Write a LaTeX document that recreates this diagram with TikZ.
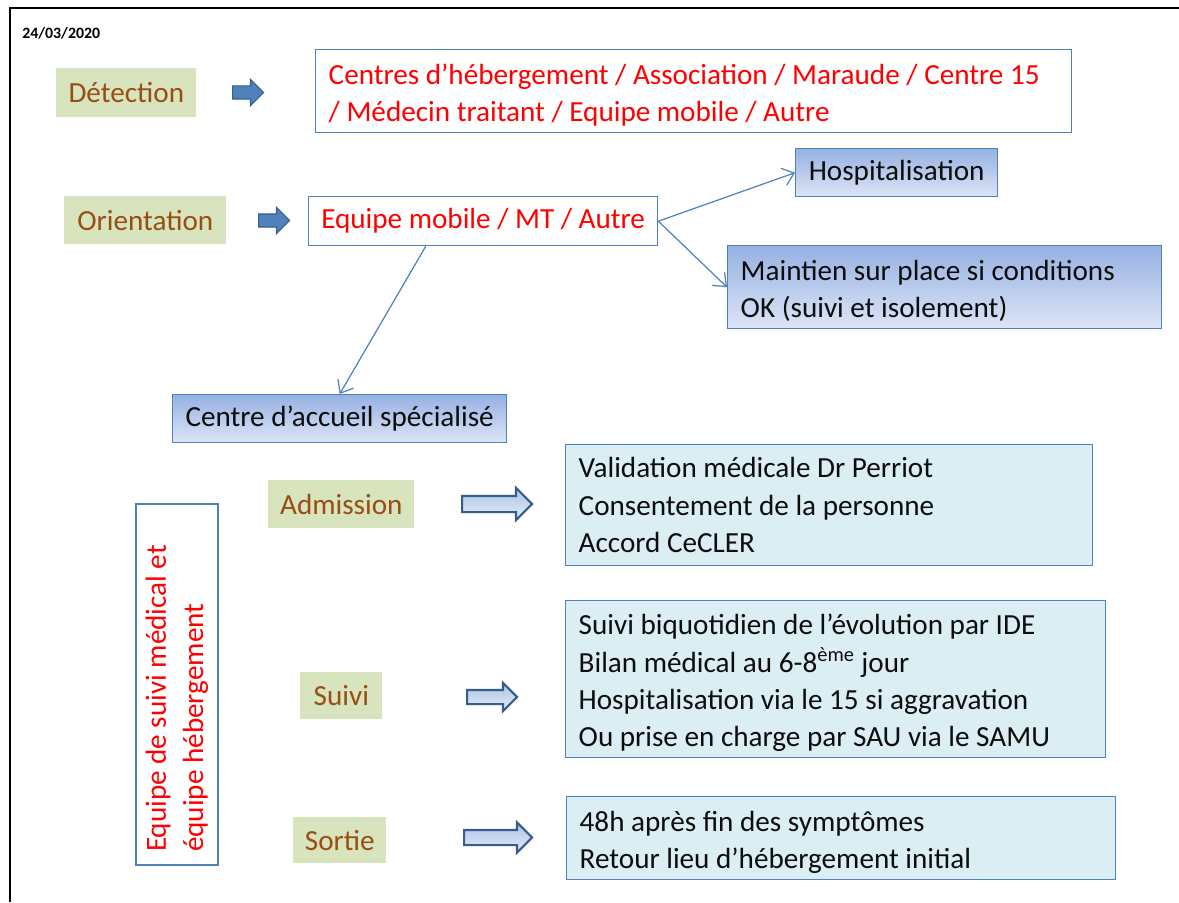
\documentclass[tikz,border=0pt]{standalone}
\usepackage{fontspec}
\setmainfont{Carlito}
\usepackage{tikz}
\usetikzlibrary{positioning, arrows.meta, shapes.arrows}
\definecolor{vertclair}{RGB}{215, 228, 189}
\definecolor{brun}{RGB}{152, 78, 18}
\definecolor{bleu}{RGB}{79, 129, 189}
\definecolor{bleufonce}{RGB}{56, 93, 138}
\definecolor{ciel}{RGB}{218, 238, 243}
\definecolor{degrhaut}{RGB}{150, 177, 226}
\definecolor{degrbas}{RGB}{221, 229, 246}
\definecolor{videhaut}{RGB}{172, 196, 230}
\definecolor{videbas}{RGB}{228, 235, 248}
\definecolor{texte}{RGB}{13, 13, 13}
\newcommand{\txt}{\fontsize{16.6}{21.2}\selectfont}
\newcommand{\bas}{\rule{0pt}{16pt}}
\tikzset{
    etape/.style={rectangle, fill=vertclair, text=brun, font=\txt, anchor=north west, inner sep=0pt},
    cadre/.style={rectangle, draw=bleu, line width=0.8pt, fill=white, text=red, font=\txt, anchor=north west},
    degr/.style={rectangle, draw=bleu, line width=0.8pt, top color=degrhaut, bottom color=degrbas, text=texte, font=\txt, anchor=north west},
    info/.style={rectangle, draw=bleu, line width=0.8pt, fill=ciel, text=texte, font=\txt, anchor=north west, align=flush left, inner xsep=0.26cm},
    fleche/.style={single arrow, draw=bleufonce, fill=bleu, line width=0.6pt, inner xsep=0pt, inner ysep=0.12cm, single arrow head extend=0.13cm, anchor=west},
    flecheVide/.style={single arrow, draw=bleufonce, line width=1.2pt, top color=videhaut, bottom color=videbas, inner xsep=0pt, inner ysep=0.13cm, single arrow head extend=0.15cm, anchor=west},
    conn/.style={-{Straight Barb[length=2.2mm, width=3.6mm]}, bleu, line width=0.7pt},
}
\begin{document}
\begin{tikzpicture}[x=0.02cm, y=-0.02cm]
    \useasboundingbox (0,0) rectangle (1179,902);
    \draw [line width=1.6pt] (1179,8) -- (10,8) -- (10,902);
    \node [font=\fontsize{9}{11}\selectfont\bfseries, anchor=west, inner sep=0pt] (date) at (22,33) {24/03/2020};

    % detection
    \node [etape, minimum width=2.8cm, minimum height=0.98cm] (det) at (56,68) {Détection};
    \node [fleche, minimum height=0.62cm] (fDet) at (232,92.5) {};
    \node [cadre, minimum width=15.12cm, minimum height=1.66cm, text width=14.6cm, inner xsep=0.26cm, align=flush left] (lieux) at (315,49) {\bas Centres d’hébergement / Association / Maraude / Centre 15\\/ Médecin traitant / Equipe mobile / Autre};

    % orientation
    \node [etape, minimum width=3.24cm, minimum height=0.96cm] (ori) at (64,196) {Orientation};
    \node [fleche, minimum height=0.62cm] (fOri) at (258,220.5) {};
    \node [cadre, minimum width=6.98cm, minimum height=0.98cm] (eqMob) at (308,196) {Equipe mobile / MT / Autre};
    \node [degr, minimum width=4.04cm, minimum height=0.96cm] (hosp) at (795,148) {Hospitalisation};
    \node [degr, minimum width=8.68cm, minimum height=1.66cm, text width=8.16cm, inner xsep=0.26cm, align=flush left] (maint) at (727,245) {\bas Maintien sur place si conditions\\OK (suivi et isolement)};
    \node [degr, minimum width=6.68cm, minimum height=0.96cm] (centre) at (172,394) {Centre d’accueil spécialisé};

    \draw [conn] (eqMob.east) -- (hosp.west);
    \draw [conn] (eqMob.east) -- (maint.west);
    \draw [conn] ([xshift=-1.15cm]eqMob.south) -- (centre.north);

    % equipe
    \node [cadre, anchor=center, rotate=90, minimum width=7.22cm, minimum height=1.64cm, text width=6.7cm, inner xsep=0.26cm, align=flush left] (equipe) at (177,684.5) {Equipe de suivi médical et\\équipe hébergement};

    % admission
    \node [etape, minimum width=2.92cm, minimum height=0.96cm] (adm) at (268,480) {Admission};
    \node [flecheVide, minimum height=1.4cm, inner ysep=0.14cm, single arrow head extend=0.16cm] (fAdm) at (461,504) {};
    \node [info, minimum width=10.54cm, minimum height=2.42cm, text width=10.02cm] (admInfo) at (565,444) {Validation médicale Dr Perriot\\Consentement de la personne\\Accord CeCLER};

    % suivi
    \node [etape, minimum width=1.64cm, minimum height=0.94cm] (suivi) at (300,672) {Suivi};
    \node [flecheVide, minimum height=1.0cm, inner ysep=0.12cm, single arrow head extend=0.14cm] (fSuivi) at (466,697) {};
    \node [info, minimum width=10.8cm, minimum height=3.14cm, text width=10.28cm] (suiviInfo) at (565,600) {\bas Suivi biquotidien de l’évolution par IDE\\Bilan médical au 6-8\textsuperscript{ème} jour\\Hospitalisation via le 15 si aggravation\\Ou prise en charge par SAU via le SAMU};

    % sortie
    \node [etape, minimum width=1.86cm, minimum height=0.92cm] (sortie) at (293,817) {Sortie};
    \node [flecheVide, minimum height=1.36cm] (fSortie) at (463,837.5) {};
    \node [info, minimum width=10.98cm, minimum height=1.66cm, text width=10.46cm] (sortieInfo) at (566,796) {\bas 48h après fin des symptômes\\Retour lieu d’hébergement initial};
\end{tikzpicture}
\end{document}
